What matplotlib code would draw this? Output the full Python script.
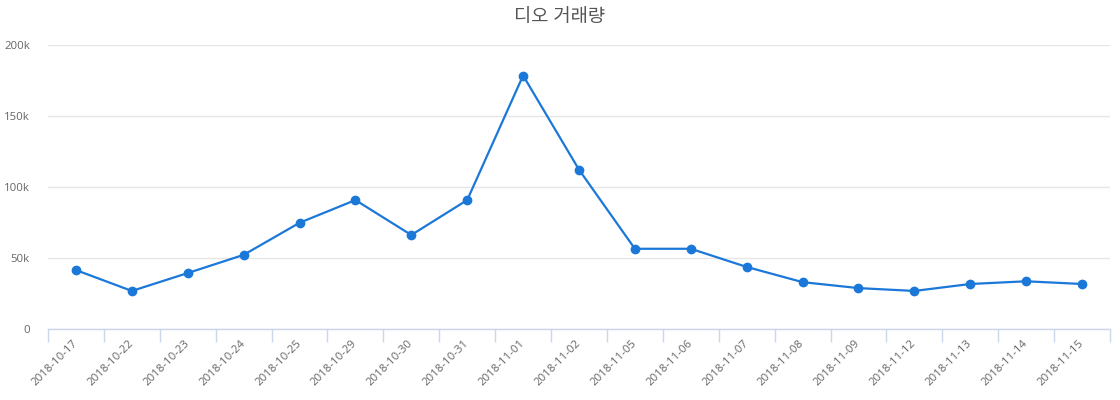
import numpy as np
import matplotlib
matplotlib.use('Agg')
import matplotlib.pyplot as plt
from matplotlib.ticker import FuncFormatter, FixedLocator

plt.rcParams['font.family'] = ['Open Sans', 'Noto Sans CJK KR', 'DejaVu Sans']

title = '디오 거래량'
dates = ['2018-10-17', '2018-10-22', '2018-10-23', '2018-10-24', '2018-10-25',
         '2018-10-29', '2018-10-30', '2018-10-31', '2018-11-01', '2018-11-02',
         '2018-11-05', '2018-11-06', '2018-11-07', '2018-11-08', '2018-11-09',
         '2018-11-12', '2018-11-13', '2018-11-14', '2018-11-15']
volume = [41500, 26800, 39400, 52200, 74800, 90800, 66200, 90800, 178500, 112200,
          56500, 56500, 43700, 33000, 28800, 26800, 31700, 33600, 31700]
yticks = [0, 50000, 100000, 150000, 200000]

line_color = '#1b78d8'

fig = plt.figure(figsize=(11.2, 4.0), dpi=100)
ax = fig.add_axes([48 / 1120, 1 - 329 / 400, (1110 - 48) / 1120, 284 / 400])

x = np.arange(len(dates))
ax.plot(x, volume, color=line_color, lw=1.6, marker='o', ms=6,
        markeredgecolor=line_color, markerfacecolor=line_color, zorder=3, clip_on=False)

ax.set_xlim(-0.5, len(dates) - 0.5)
ax.set_ylim(0, 200000)

ax.set_yticks(yticks)
ax.yaxis.set_major_formatter(FuncFormatter(lambda v, p: '0' if v == 0 else f'{int(v / 1000)}k'))
ax.grid(axis='y', color='#e6e6e6', lw=1)
ax.set_axisbelow(True)

ax.set_xticks(x)
ax.set_xticklabels(dates, rotation=45, ha='right', va='center', rotation_mode='anchor')
ax.xaxis.set_minor_locator(FixedLocator(np.arange(-0.5, len(dates), 1.0)))
ax.tick_params(axis='x', which='major', length=0, pad=9, labelsize=8.2, labelcolor='#666666')
ax.tick_params(axis='x', which='minor', length=9, width=1, color='#ccd6eb', direction='out')
ax.tick_params(axis='y', length=0, pad=13, labelsize=8.2, labelcolor='#666666')

for s in ['top', 'right', 'left']:
    ax.spines[s].set_visible(False)
ax.spines['bottom'].set_color('#ccd6eb')
ax.spines['bottom'].set_linewidth(1)

fig.text(0.5, 1 - 17 / 400, title, ha='center', va='center', fontsize=13.5, color='#555555')

fig.savefig('out.png', dpi=100)
